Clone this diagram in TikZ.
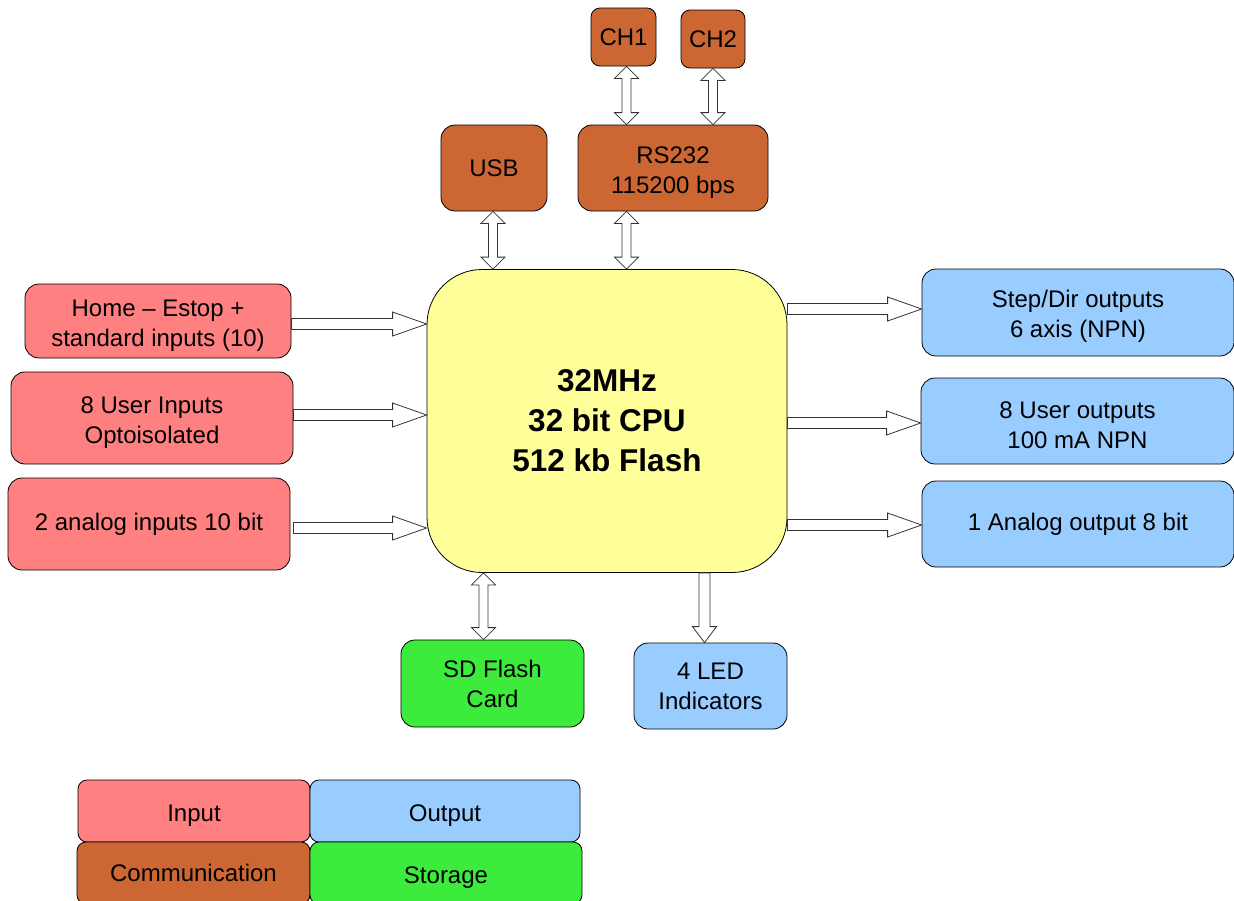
\documentclass[tikz,border=0pt]{standalone}
\usepackage{fontspec}
\setmainfont{Liberation Sans}
\usetikzlibrary{calc}

\definecolor{inpc}{HTML}{FF8080}
\definecolor{outc}{HTML}{99CCFF}
\definecolor{comc}{HTML}{CC6633}
\definecolor{stoc}{HTML}{3CEB3C}
\definecolor{cpuc}{HTML}{FFFF99}

% a taller first line sets the text a little lower in its box
\newcommand\lowstrut{\rule{0pt}{25pt}}

\tikzset{
  box/.style={draw=black, line width=0.8pt, rounded corners=14pt, align=center,
    inner sep=0pt, font=\fontsize{24}{30}\selectfont},
  inbox/.style={box, fill=inpc},
  outbox/.style={box, fill=outc},
  combox/.style={box, fill=comc},
  stobox/.style={box, fill=stoc},
  legbox/.style={box, rounded corners=9pt},
  blockarrow/.style={draw=black!80, fill=white, line width=0.8pt, line join=miter}
}

% block arrow pointing right, from #1 to #2 (same height)
\newcommand\rarrow[2]{%
  \draw[blockarrow] let \p1=(#1), \p2=(#2) in
    (\x1,\y1+5.5pt) -- (\x2-34pt,\y1+5.5pt) -- (\x2-34pt,\y1+12pt) -- (\x2,\y1)
    -- (\x2-34pt,\y1-12pt) -- (\x2-34pt,\y1-5.5pt) -- (\x1,\y1-5.5pt) -- cycle;}

% vertical two-headed block arrow, from top #1 down to #2
\newcommand\vdarrow[2]{%
  \draw[blockarrow] let \p1=(#1), \p2=(#2) in
    (\x1,\y1) -- (\x1+12pt,\y1-12pt) -- (\x1+4.5pt,\y1-12pt) -- (\x1+4.5pt,\y2+12pt)
    -- (\x1+12pt,\y2+12pt) -- (\x1,\y2) -- (\x1-12pt,\y2+12pt) -- (\x1-4.5pt,\y2+12pt)
    -- (\x1-4.5pt,\y1-12pt) -- (\x1-12pt,\y1-12pt) -- cycle;}

% vertical block arrow pointing down, from #1 to #2
\newcommand\vsarrow[2]{%
  \draw[blockarrow] let \p1=(#1), \p2=(#2) in
    (\x1-5.5pt,\y1) -- (\x1+5.5pt,\y1) -- (\x1+5.5pt,\y2+16pt) -- (\x1+12pt,\y2+16pt)
    -- (\x1,\y2) -- (\x1-12pt,\y2+16pt) -- (\x1-5.5pt,\y2+16pt) -- cycle;}

\begin{document}
\begin{tikzpicture}[x=1pt, y=-1pt]
\useasboundingbox (0,0) rectangle (1234,900);

% processor
\node[box, fill=cpuc, rounded corners=55pt, minimum width=360pt, minimum height=303pt,
  font=\fontsize{31.5}{40}\selectfont\bfseries] (cpu) at (607,421)
  {32MHz\\32 bit CPU\\512 kb Flash};

% communication
\node[combox, rounded corners=9pt, minimum width=65pt, minimum height=58pt] (ch1) at (623.5,37) {CH1};
\node[combox, rounded corners=9pt, minimum width=64pt, minimum height=58pt] (ch2) at (713,39) {CH2};
\node[combox, minimum width=106pt, minimum height=86pt] (usb) at (494,168) {USB};
\node[combox, minimum width=190pt, minimum height=86pt] (rs) at (673,168) {\lowstrut RS232\\115200 bps};

% inputs
\node[inbox, minimum width=266pt, minimum height=74pt] (home) at (158,321) {\lowstrut Home -- Estop +\\standard inputs (10)};
\node[inbox, minimum width=282pt, minimum height=92pt] (uin) at (152,418) {\lowstrut 8 User Inputs\\Optoisolated};
\node[inbox, minimum width=282pt, minimum height=92pt] (ain) at (149,524) {2 analog inputs 10 bit};

% outputs
\node[outbox, minimum width=312pt, minimum height=87pt] (step) at (1078,312.5) {\lowstrut Step/Dir outputs\\6 axis (NPN)};
\node[outbox, minimum width=313pt, minimum height=86pt] (uout) at (1077.5,421) {\lowstrut 8 User outputs\\100 mA NPN};
\node[outbox, minimum width=312pt, minimum height=86pt] (aout) at (1078,524) {1 Analog output 8 bit};
\node[outbox, minimum width=153pt, minimum height=86pt] (led) at (710.5,686) {4 LED\\Indicators};

% storage
\node[stobox, minimum width=183pt, minimum height=87pt] (sd) at (492.5,683.5) {SD Flash\\Card};

% legend
\node[legbox, fill=inpc, minimum width=232pt, minimum height=62pt] (lin) at (194,811) {\lowstrut Input};
\node[legbox, fill=outc, minimum width=270pt, minimum height=62pt] (lout) at (445,811) {\lowstrut Output};
\node[legbox, fill=comc, minimum width=233pt, minimum height=62pt] (lcom) at (193.5,873) {Communication};
\node[legbox, fill=stoc, minimum width=272pt, minimum height=62pt] (lsto) at (446,873) {\lowstrut Storage};

% connections
\vdarrow{[xshift=3pt]ch1.south}{[xshift=3pt]ch1.south |- rs.north}
\vdarrow{ch2.south}{ch2.south |- rs.north}
\vdarrow{[xshift=-1pt]usb.south}{[xshift=-1pt]usb.south |- cpu.north}
\vdarrow{[xshift=3pt]ch1.south |- rs.south}{[xshift=3pt]ch1.south |- cpu.north}
\vdarrow{[xshift=-9pt]sd.north |- cpu.south}{[xshift=-9pt]sd.north}
\vsarrow{[xshift=-6pt]led.north |- cpu.south}{[xshift=-6pt]led.north}

\rarrow{[yshift=-3pt]home.east}{[yshift=-3pt]home.east -| cpu.west}
\rarrow{[yshift=3pt]uin.east}{[yshift=3pt]uin.east -| cpu.west}
\rarrow{[yshift=-4pt]ain.east -| uin.east}{[yshift=-4pt]ain.east -| cpu.west}

\rarrow{[yshift=3.5pt]step.west -| cpu.east}{[yshift=3.5pt]step.west}
\rarrow{[yshift=-2pt]uout.west -| cpu.east}{[yshift=-2pt]uout.west}
\rarrow{[yshift=-1pt]aout.west -| cpu.east}{[yshift=-1pt]aout.west}
\end{tikzpicture}
\end{document}
